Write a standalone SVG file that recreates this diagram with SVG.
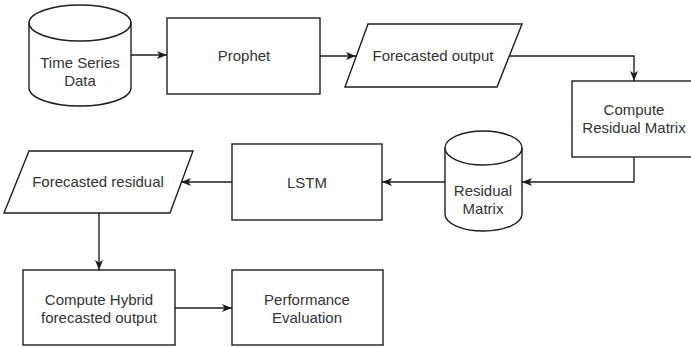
<svg xmlns="http://www.w3.org/2000/svg" width="691" height="347" viewBox="0 0 691 347">
  <style>
    .shape { fill: #ffffff; stroke: #1e1e1e; stroke-width: 1.4; }
    .edge { fill: none; stroke: #1e1e1e; stroke-width: 1.4; }
    .label { font-family: "Liberation Sans", Arial, sans-serif; font-size: 15px; fill: #333333; text-anchor: middle; }
  </style>
  <defs>
    <marker id="arrow" viewBox="0 0 10 8" refX="10" refY="4" markerWidth="10" markerHeight="8" markerUnits="userSpaceOnUse" orient="auto">
      <path d="M0,0 L10,4 L0,8 L2.5,4 Z" fill="#1e1e1e"/>
    </marker>
  </defs>
  <rect width="691" height="347" fill="#ffffff"/>

  <g id="connectors">
    <path class="edge" d="M131,55 L167,55" marker-end="url(#arrow)"/>
    <path class="edge" d="M320,56 L356,56" marker-end="url(#arrow)"/>
    <path class="edge" d="M509,56 L634,56 L634,81" marker-end="url(#arrow)"/>
    <path class="edge" d="M634,157 L634,182 L522,182" marker-end="url(#arrow)"/>
    <path class="edge" d="M445,182 L382,182" marker-end="url(#arrow)"/>
    <path class="edge" d="M232,182 L181,182" marker-end="url(#arrow)"/>
    <path class="edge" d="M99,213 L99,270" marker-end="url(#arrow)"/>
    <path class="edge" d="M175,308 L232,308" marker-end="url(#arrow)"/>
  </g>

  <g id="time-series-data">
    <path class="shape" d="M29,23 A51,18 0 0 1 131,23 L131,88 A51,18 0 0 1 29,88 Z"/>
    <path class="edge" d="M29,23 A51,18 0 0 0 131,23"/>
    <text class="label" x="80" y="68">Time Series</text>
    <text class="label" x="80" y="86">Data</text>
  </g>

  <g id="prophet">
    <rect class="shape" x="167" y="18" width="153" height="76"/>
    <text class="label" x="244" y="61">Prophet</text>
  </g>

  <g id="forecasted-output">
    <path class="shape" d="M368,24 L522,24 L497,87 L345,87 Z"/>
    <text class="label" x="433" y="61">Forecasted output</text>
  </g>

  <g id="compute-residual-matrix">
    <rect class="shape" x="572" y="81" width="125" height="76"/>
    <text class="label" x="634" y="115">Compute</text>
    <text class="label" x="634" y="133">Residual Matrix</text>
  </g>

  <g id="residual-matrix">
    <path class="shape" d="M445,148 A38.5,17 0 0 1 522,148 L522,214 A38.5,17 0 0 1 445,214 Z"/>
    <path class="edge" d="M445,148 A38.5,17 0 0 0 522,148"/>
    <text class="label" x="483" y="196">Residual</text>
    <text class="label" x="483" y="214">Matrix</text>
  </g>

  <g id="lstm">
    <rect class="shape" x="232" y="144" width="150" height="76"/>
    <text class="label" x="307" y="188">LSTM</text>
  </g>

  <g id="forecasted-residual">
    <path class="shape" d="M29,151 L193,151 L170,213 L4,213 Z"/>
    <text class="label" x="98" y="187">Forecasted residual</text>
  </g>

  <g id="compute-hybrid">
    <rect class="shape" x="23" y="270" width="152" height="75"/>
    <text class="label" x="99" y="305">Compute Hybrid</text>
    <text class="label" x="99" y="323">forecasted output</text>
  </g>

  <g id="performance-evaluation">
    <rect class="shape" x="232" y="270" width="151" height="75"/>
    <text class="label" x="307" y="305">Performance</text>
    <text class="label" x="307" y="323">Evaluation</text>
  </g>
</svg>
